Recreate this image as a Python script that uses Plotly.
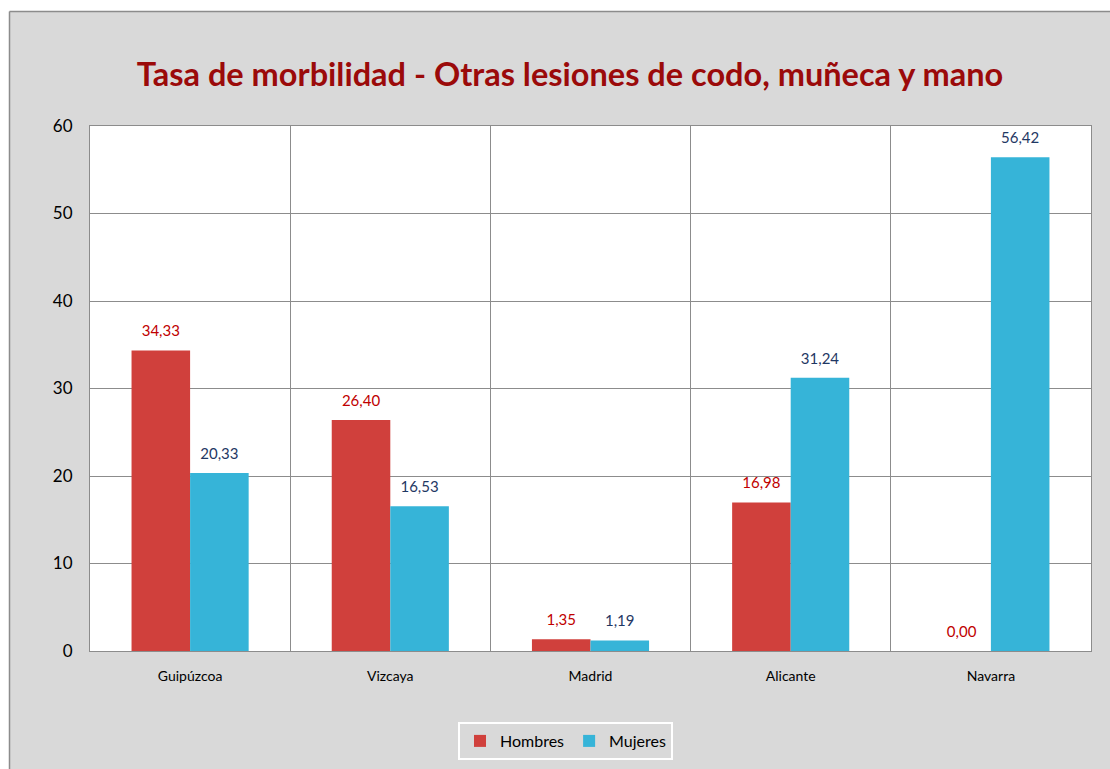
import plotly.graph_objects as go

# Morbidity rate by province and sex
provincias = ["Guipúzcoa", "Vizcaya", "Madrid", "Alicante", "Navarra"]
hombres = [34.33, 26.40, 1.35, 16.98, 0.00]
mujeres = [20.33, 16.53, 1.19, 31.24, 56.42]
y_ticks = [0, 10, 20, 30, 40, 50, 60]

W, H = 1110, 769
ML, MR, MT, MB = 90, 19, 126, 118
PW, PH = W - ML - MR, H - MT - MB

FONT = "Lato, 'Open Sans', sans-serif"
GAP = 0.415

series = [
    ("Hombres", hombres, "#d0403c", "#c00000"),
    ("Mujeres", mujeres, "#36b4d8", "#1f3864"),
]

fig = go.Figure()
for name, vals, fill, txt in series:
    fig.add_trace(go.Bar(
        name=name, x=provincias, y=vals, offsetgroup=name,
        marker=dict(color=fill, line=dict(width=0)),
    ))
# value labels, lifted above each bar top by an invisible marker
for name, vals, fill, txt in series:
    fig.add_trace(go.Scatter(
        x=provincias, y=vals, offsetgroup=name, mode="markers+text",
        marker=dict(size=15, opacity=0),
        text=[f"{v:.2f}".replace(".", ",") for v in vals],
        textposition="top center",
        textfont=dict(color=txt, size=15, family=FONT),
        showlegend=False, hoverinfo="skip", cliponaxis=False,
    ))

def px_x(p):
    return (p - ML) / PW

def px_y(p):
    return 1 - (p - MT) / PH

# white page strips around the grey chart frame, plus the frame border
fig.add_shape(type="rect", xref="paper", yref="paper",
              x0=px_x(-5), y0=px_y(H + 5), x1=px_x(9.5), y1=px_y(-5),
              fillcolor="white", line=dict(width=0))
fig.add_shape(type="rect", xref="paper", yref="paper",
              x0=px_x(-5), y0=px_y(11.5), x1=px_x(W + 5), y1=px_y(-5),
              fillcolor="white", line=dict(width=0))
fig.add_shape(type="line", xref="paper", yref="paper",
              x0=px_x(9.5), y0=px_y(11.5), x1=px_x(W + 5), y1=px_y(11.5),
              line=dict(color="#8c8c8c", width=1.5))
fig.add_shape(type="line", xref="paper", yref="paper",
              x0=px_x(9.5), y0=px_y(11.5), x1=px_x(9.5), y1=px_y(H + 5),
              line=dict(color="#8c8c8c", width=1.5))

fig.update_layout(
    width=W, height=H,
    margin=dict(l=ML, r=MR, t=MT, b=MB),
    paper_bgcolor="#d9d9d9",
    plot_bgcolor="white",
    barmode="group",
    bargap=GAP,
    bargroupgap=0,
    scattermode="group",
    scattergap=GAP,
    font=dict(family=FONT, color="black"),
    title=dict(
        text="<b>Tasa de morbilidad - Otras lesiones de codo, muñeca y mano</b>",
        font=dict(size=32.5, color="#9b0a0a", family=FONT),
        x=570 / W, xanchor="center", y=1 - 75 / H, yanchor="middle",
        xref="container", yref="container",
    ),
    xaxis=dict(
        tickson="boundaries", showgrid=True, gridcolor="#8c8c8c", gridwidth=1,
        showline=True, linecolor="#8c8c8c", linewidth=1, mirror=True,
        ticks="", tickfont=dict(size=14, color="black"),
        ticklabelstandoff=12,
    ),
    yaxis=dict(
        range=[0, 60], tickvals=y_ticks, showgrid=True, gridcolor="#8c8c8c",
        gridwidth=1, zeroline=False,
        showline=True, linecolor="#8c8c8c", linewidth=1, mirror=True,
        ticks="", tickfont=dict(size=17, color="black"),
        ticklabelstandoff=13,
    ),
    legend=dict(
        orientation="h", xref="container", yref="container",
        x=458 / W, xanchor="left", y=1 - 722 / H, yanchor="top",
        bgcolor="#d9d9d9", bordercolor="white", borderwidth=2,
        font=dict(size=16, color="black"),
        itemwidth=30, tracegroupgap=0,
    ),
)

fig.write_html("out.html")
